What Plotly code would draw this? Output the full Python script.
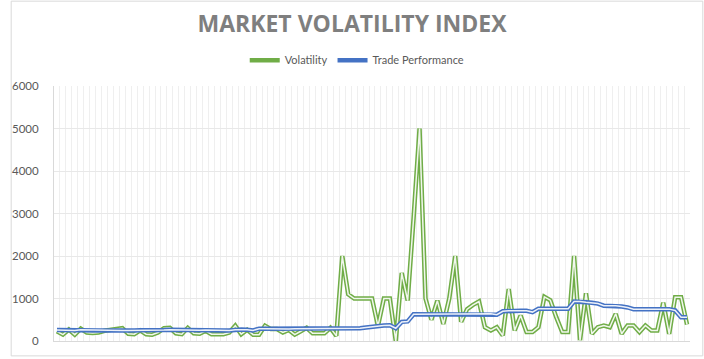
import plotly.graph_objects as go

title_text = "MARKET VOLATILITY INDEX"
series_names = ["Volatility", "Trade Performance"]
y_ticks = [0, 1000, 2000, 3000, 4000, 5000, 6000]

volatility = [230,150,270,150,290,200,190,200,240,270,
              280,300,170,160,250,160,150,200,300,310,
              180,160,310,180,170,240,160,160,160,200,
              360,160,265,150,150,360,280,280,200,260,
              150,230,310,180,180,180,310,120,2000,1100,
              1000,1000,1000,1000,350,1000,1000,0,1600,950,
              2900,5000,1000,500,950,400,1000,2000,450,750,
              850,930,325,250,325,130,1220,250,600,210,
              210,325,1040,960,560,210,210,2000,20,1120,
              170,325,365,325,640,170,365,365,210,365,
              250,250,900,170,1030,1030,390]

trade_perf = [260,255,250,250,265,260,255,250,250,245,
              240,245,250,250,255,250,250,245,260,265,
              260,255,250,250,255,260,255,250,245,250,
              265,270,265,250,290,290,285,290,290,285,
              290,290,285,290,290,290,290,290,290,290,
              295,300,320,340,350,365,370,300,450,460,
              630,630,630,630,630,630,630,630,630,630,
              630,630,630,640,620,700,710,710,710,710,
              680,760,760,760,760,760,760,930,930,910,
              900,880,830,830,830,810,790,750,750,750,
              750,750,750,750,720,560,560]

categories = list(range(len(volatility)))

GREEN = "#70AD47"
BLUE = "#4472C4"
INNER = "rgba(255,255,255,0.9)"

fig = go.Figure()
for name, vals, col in [(series_names[0], volatility, GREEN), (series_names[1], trade_perf, BLUE)]:
    fig.add_trace(go.Scatter(x=categories, y=vals, mode="lines", name=name,
                             line=dict(color=col, width=4.5), legendgroup=name))
    fig.add_trace(go.Scatter(x=categories, y=vals, mode="lines", name=name,
                             line=dict(color=INNER, width=1.5), legendgroup=name,
                             showlegend=False, hoverinfo="skip"))

W, H = 704, 359
L, R, T, B = 44, 14, 86, 16
pw, ph = W - L - R, H - T - B

fig.update_layout(
    width=W, height=H,
    margin=dict(l=L, r=R, t=T, b=B),
    paper_bgcolor="white", plot_bgcolor="white",
    title=dict(text="<b>" + title_text + "</b>", x=0.5, xanchor="center",
               y=1 - 24 / H, yanchor="middle", yref="container",
               font=dict(family="Open Sans", size=23, color="#7F7F7F")),
    legend=dict(orientation="h", x=(W / 2 - L) / pw, xanchor="center", y=1 + (T - 60) / ph,
                yanchor="middle",
                font=dict(family="Lato", size=11, color="#595959"),
                itemwidth=30, bgcolor="rgba(0,0,0,0)"),
    showlegend=True,
    xaxis=dict(range=[-0.5, len(categories) - 0.5], tickmode="linear", tick0=-0.5, dtick=1,
               showticklabels=False, showgrid=True, gridcolor="#EFEFEF", gridwidth=1,
               zeroline=False, showline=True, linecolor="#D9D9D9", linewidth=1, ticks=""),
    yaxis=dict(range=[0, 6000], tickvals=y_ticks, ticktext=[str(v) for v in y_ticks],
               showgrid=True, gridcolor="#E8E8E8", gridwidth=1, zeroline=False,
               showline=True, linecolor="#D9D9D9", linewidth=1, ticks="",
               ticklabelstandoff=12,
               tickfont=dict(family="Lato", size=11.5, color="#595959")),
    shapes=[dict(type="rect", xref="paper", yref="paper",
                 x0=-L / pw + 0.5 / pw, x1=1 + (R - 1) / pw,
                 y0=-(B - 1) / ph, y1=1 + (T - 0.5) / ph,
                 line=dict(color="#D9D9D9", width=1), fillcolor="rgba(0,0,0,0)", layer="below")],
)

fig.write_html("out.html", config={"displayModeBar": False},
               post_script="document.body.style.margin='0';document.body.style.overflow='hidden';")
